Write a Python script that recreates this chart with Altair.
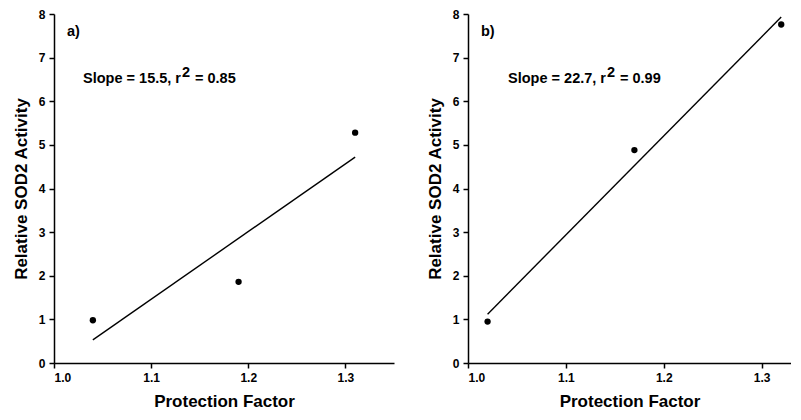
import altair as alt
import pandas as pd

# Panel a)
a_pf = [1.04, 1.19, 1.31]
a_sod = [0.98, 1.86, 5.28]
a_fit_x = [1.04, 1.31]
a_fit_y = [0.53, 4.72]

# Panel b)
b_pf = [1.02, 1.17, 1.32]
b_sod = [0.95, 4.88, 7.76]
b_fit_x = [1.02, 1.32]
b_fit_y = [1.12, 7.93]

x_ticks = [1.0, 1.1, 1.2, 1.3]
y_ticks = [0, 1, 2, 3, 4, 5, 6, 7, 8]

FONT = "Liberation Sans"


def panel(px, py, fx, fy, label, slope_txt, r2_txt, xmax, width, rx):
    pts = pd.DataFrame({"pf": px, "sod": py})
    fit = pd.DataFrame({"pf": fx, "sod": fy})
    xs = alt.Scale(domain=[1.0, xmax], nice=False, zero=False)
    ys = alt.Scale(domain=[0, 8], nice=False)
    xax = alt.Axis(values=x_ticks, format=".1f", title="Protection Factor",
                   grid=False, titlePadding=10)
    yax = alt.Axis(values=y_ticks, format="d", title="Relative SOD2 Activity",
                   grid=False, titlePadding=8)
    points = alt.Chart(pts).mark_circle(size=40, color="black", opacity=1).encode(
        x=alt.X("pf:Q", scale=xs, axis=xax),
        y=alt.Y("sod:Q", scale=ys, axis=yax),
    )
    line = alt.Chart(fit).mark_line(color="black", strokeWidth=1.4).encode(
        x=alt.X("pf:Q", scale=xs),
        y=alt.Y("sod:Q", scale=ys),
    )
    txt = dict(font=FONT, fontWeight="bold", fontSize=14.5, color="black", baseline="alphabetic")
    lab = alt.Chart(pd.DataFrame({"t": [label]})).mark_text(
        align="left", **txt).encode(text="t:N", x=alt.value(13), y=alt.value(22))
    s1 = alt.Chart(pd.DataFrame({"t": [slope_txt]})).mark_text(
        align="right", **txt).encode(text="t:N", x=alt.value(rx), y=alt.value(69))
    s2 = alt.Chart(pd.DataFrame({"t": ["2"]})).mark_text(
        align="left", **txt).encode(text="t:N", x=alt.value(rx + 1), y=alt.value(63))
    s3 = alt.Chart(pd.DataFrame({"t": [r2_txt]})).mark_text(
        align="left", **txt).encode(text="t:N", x=alt.value(rx + 14), y=alt.value(69))
    return alt.layer(line, points, lab, s1, s2, s3).properties(width=width, height=349)


left = panel(a_pf, a_sod, a_fit_x, a_fit_y, "a)", "Slope = 15.5, r", "= 0.85", 1.35, 340, 127)
right = panel(b_pf, b_sod, b_fit_x, b_fit_y, "b)", "Slope = 22.7, r", "= 0.99", 1.33, 323, 138)

chart = alt.hconcat(left, right, spacing=32).properties(
    padding={"left": 4, "top": 0, "right": 0, "bottom": 0}
).configure_view(stroke=None).configure_axis(
    domainColor="black", domainWidth=1.5, tickColor="black", tickWidth=1.5, tickSize=5,
    labelFont=FONT, labelFontWeight="bold", labelFontSize=12, labelColor="black",
    titleFont=FONT, titleFontWeight="bold", titleFontSize=17, titleColor="black",
    labelPadding=4,
)

chart.save("out.html", embed_options={"renderer": "svg", "actions": False})
